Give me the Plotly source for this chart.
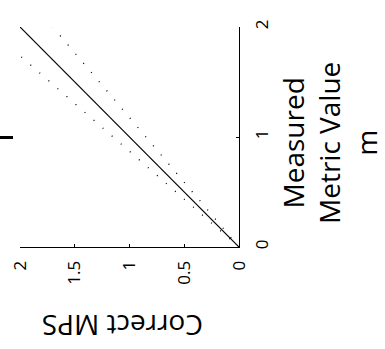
import plotly.graph_objects as go

# Data (chart is drawn rotated: horizontal axis = Correct MPS, vertical axis = Measured Metric Value m)
measured_m = [0, 2]
correct_mps = [0, 2]
upper_bound = [0, 2.3]   # +15 %
lower_bound = [0, 1.7]   # -15 %
x_ticks = [0, 0.5, 1, 1.5, 2]
x_tick_labels = ["0", "0.5", "1", "1.5", "2"]
y_ticks = [0, 1, 2]
y_tick_labels = ["0", "1", "2"]

FONT = "Open Sans"

fig = go.Figure()
fig.add_trace(go.Scatter(x=upper_bound, y=measured_m, mode="lines",
                         line=dict(color="black", width=1.3, dash="1px,11px"), showlegend=False))
fig.add_trace(go.Scatter(x=lower_bound, y=measured_m, mode="lines",
                         line=dict(color="black", width=1.3, dash="1px,11px"), showlegend=False))
fig.add_trace(go.Scatter(x=correct_mps, y=measured_m, mode="lines",
                         line=dict(color="black", width=1.2), showlegend=False))

L, R, T, B = 20, 146, 27, 102
W, H = 385, 349
pw, ph = W - L - R, H - T - B

fig.update_layout(
    width=W, height=H,
    margin=dict(l=L, r=R, t=T, b=B, pad=0, autoexpand=False),
    paper_bgcolor="white", plot_bgcolor="white",
    font=dict(family=FONT, color="black"),
    xaxis=dict(range=[2, 0], autorange=False, showgrid=False, zeroline=False, automargin=False,
               showline=True, linecolor="black", linewidth=1,
               ticks="inside", ticklen=3, tickcolor="black",
               tickvals=x_ticks, ticktext=x_tick_labels, tickangle=-90,
               tickfont=dict(size=17, family=FONT), ticklabelstandoff=6),
    yaxis=dict(range=[0, 2], autorange=False, side="right", showgrid=False, zeroline=False,
               automargin=False,
               showline=True, linecolor="black", linewidth=1,
               ticks="inside", ticklen=3, tickcolor="black",
               tickvals=y_ticks, ticktext=y_tick_labels, tickangle=-90,
               tickfont=dict(size=17, family=FONT), ticklabelstandoff=8),
    annotations=[
        dict(text="Correct MPS", xref="paper", yref="paper",
             x=(123 - L) / pw, y=(H - B - 326) / ph, showarrow=False, textangle=180,
             xanchor="center", yanchor="middle", font=dict(size=28, family=FONT)),
        dict(text="Measured<br>Metric Value<br>m", xref="paper", yref="paper",
             x=(329 - L) / pw, y=(H - B - 143) / ph, showarrow=False, textangle=-90,
             xanchor="center", yanchor="middle", align="center",
             font=dict(size=28, family=FONT)),
    ],
    shapes=[
        dict(type="line", xref="paper", yref="paper",
             x0=-20 / pw, x1=-7 / pw, y0=(H - B - 137.5) / ph, y1=(H - B - 137.5) / ph,
             line=dict(color="black", width=3)),
    ],
)

fig.write_html("out.html", config={"displayModeBar": False},
               post_script="document.body.style.margin='0';document.body.style.overflow='hidden';")
